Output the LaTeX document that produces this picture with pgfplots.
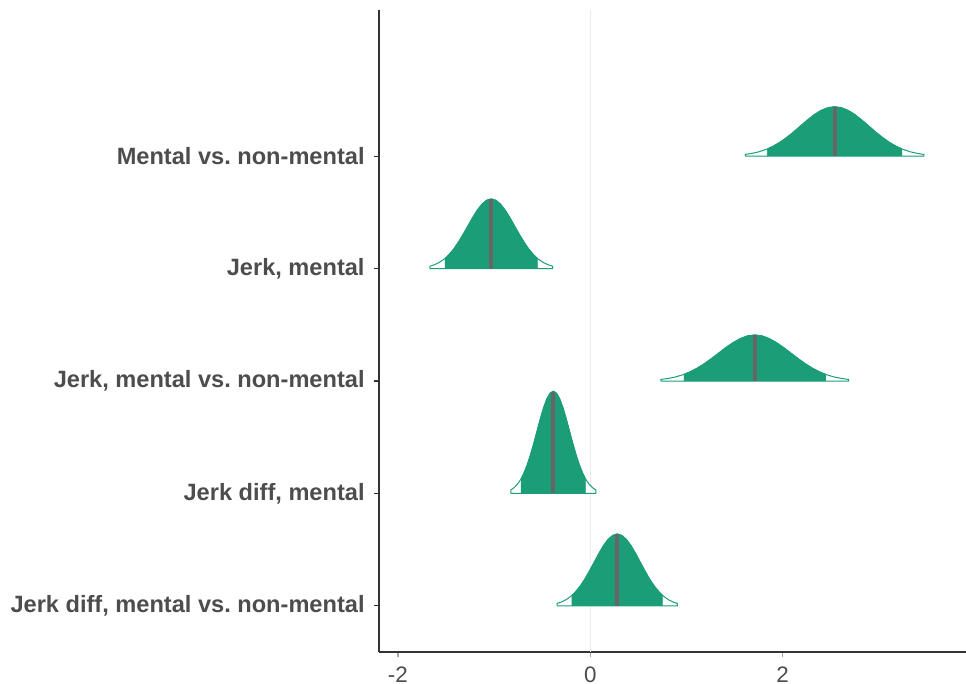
\documentclass[border=0pt]{standalone}
\usepackage{pgfplots}
\pgfplotsset{compat=1.18}
\usepackage{fontspec}
\setmainfont{Liberation Sans}
\frenchspacing
\definecolor{dgreen}{HTML}{1B9E77}
\definecolor{medgray}{HTML}{666666}
\definecolor{txtgray}{HTML}{4D4D4D}
\definecolor{axgray}{HTML}{333333}
\definecolor{gridgray}{HTML}{EBEBEB}
\begin{document}
\begin{tikzpicture}
\begin{axis}[
  scale only axis,
  width=293.5pt, height=321pt,
  xmin=-2.197, xmax=3.906,
  ymin=0.59, ymax=6.30,
  axis lines*=left,
  axis line style={axgray, line width=0.6pt},
  xtick={-2,0,2},
  ytick={1,2,3,4,5},
  yticklabels={Jerk diff{,} mental vs.\ non-mental, Jerk diff{,} mental, Jerk{,} mental vs.\ non-mental, Jerk{,} mental, Mental vs.\ non-mental},
  tick align=outside,
  major tick length=2.5pt,
  xtick style={color=gray!70, line width=0.6pt},
  ytick style={color=axgray, line width=0.6pt},
  /pgf/number format/assume math mode=true,
  xticklabel style={font=\fontsize{11.2}{13}\selectfont, text=txtgray, anchor=north, inner sep=0pt, yshift=-4.5pt},
  yticklabel style={font=\fontsize{11.8}{14}\selectfont\bfseries, text=txtgray, anchor=east, inner sep=0pt, xshift=-4.5pt},
  clip=false,
]
\addplot[gridgray, line width=0.6pt] coordinates {(0,0.59) (0,6.30)};

% Mental vs. non-mental (base 5)
\addplot[draw=dgreen, fill=white, line width=0.5pt] coordinates {
(1.612,5) (1.612,5.015) (1.683,5.025) (1.755,5.039) (1.826,5.060) (1.840,5.064) (1.897,5.087) (1.969,5.122) (2.040,5.165) (2.112,5.214) (2.183,5.267) (2.254,5.319) (2.326,5.368) (2.397,5.406) (2.469,5.431) (2.540,5.440) (2.611,5.431) (2.683,5.406) (2.754,5.368) (2.826,5.319) (2.897,5.267) (2.968,5.214) (3.040,5.165) (3.111,5.122) (3.183,5.087) (3.240,5.064) (3.254,5.060) (3.325,5.039) (3.397,5.025) (3.468,5.015) (3.468,5) (1.612,5)};
\addplot[draw=dgreen, fill=dgreen, line width=0.3pt] coordinates {
(1.840,5) (1.840,5.064) (1.897,5.087) (1.969,5.122) (2.040,5.165) (2.112,5.214) (2.183,5.267) (2.254,5.319) (2.326,5.368) (2.397,5.406) (2.469,5.431) (2.540,5.440) (2.611,5.431) (2.683,5.406) (2.754,5.368) (2.826,5.319) (2.897,5.267) (2.968,5.214) (3.040,5.165) (3.111,5.122) (3.183,5.087) (3.240,5.064) (3.240,5)};
\addplot[medgray, line width=1.9pt] coordinates {(2.540,5) (2.540,5.437)};

% Jerk, mental (base 4)
\addplot[draw=dgreen, fill=white, line width=0.5pt] coordinates {
(-1.667,4) (-1.667,4.021) (-1.618,4.035) (-1.569,4.055) (-1.520,4.084) (-1.510,4.091) (-1.471,4.123) (-1.422,4.172) (-1.373,4.233) (-1.324,4.302) (-1.275,4.376) (-1.226,4.450) (-1.177,4.518) (-1.128,4.572) (-1.079,4.608) (-1.030,4.620) (-0.981,4.608) (-0.932,4.572) (-0.883,4.518) (-0.834,4.450) (-0.785,4.376) (-0.736,4.302) (-0.687,4.233) (-0.638,4.172) (-0.589,4.123) (-0.550,4.091) (-0.540,4.084) (-0.491,4.055) (-0.442,4.035) (-0.393,4.021) (-0.393,4) (-1.667,4)};
\addplot[draw=dgreen, fill=dgreen, line width=0.3pt] coordinates {
(-1.510,4) (-1.510,4.091) (-1.471,4.123) (-1.422,4.172) (-1.373,4.233) (-1.324,4.302) (-1.275,4.376) (-1.226,4.450) (-1.177,4.518) (-1.128,4.572) (-1.079,4.608) (-1.030,4.620) (-0.981,4.608) (-0.932,4.572) (-0.883,4.518) (-0.834,4.450) (-0.785,4.376) (-0.736,4.302) (-0.687,4.233) (-0.638,4.172) (-0.589,4.123) (-0.550,4.091) (-0.550,4)};
\addplot[medgray, line width=1.9pt] coordinates {(-1.030,4) (-1.030,4.617)};

% Jerk, mental vs. non-mental (base 3)
\addplot[draw=dgreen, fill=white, line width=0.5pt] coordinates {
(0.735,3) (0.735,3.014) (0.810,3.023) (0.885,3.036) (0.960,3.055) (0.975,3.060) (1.035,3.081) (1.110,3.114) (1.185,3.154) (1.260,3.200) (1.335,3.249) (1.410,3.298) (1.485,3.342) (1.560,3.378) (1.635,3.402) (1.710,3.410) (1.785,3.402) (1.860,3.378) (1.935,3.342) (2.010,3.298) (2.085,3.249) (2.160,3.200) (2.235,3.154) (2.310,3.114) (2.385,3.081) (2.445,3.060) (2.460,3.055) (2.535,3.036) (2.610,3.023) (2.685,3.014) (2.685,3) (0.735,3)};
\addplot[draw=dgreen, fill=dgreen, line width=0.3pt] coordinates {
(0.975,3) (0.975,3.060) (1.035,3.081) (1.110,3.114) (1.185,3.154) (1.260,3.200) (1.335,3.249) (1.410,3.298) (1.485,3.342) (1.560,3.378) (1.635,3.402) (1.710,3.410) (1.785,3.402) (1.860,3.378) (1.935,3.342) (2.010,3.298) (2.085,3.249) (2.160,3.200) (2.235,3.154) (2.310,3.114) (2.385,3.081) (2.445,3.060) (2.445,3)};
\addplot[medgray, line width=1.9pt] coordinates {(1.710,3) (1.710,3.407)};

% Jerk diff, mental (base 2)
\addplot[draw=dgreen, fill=white, line width=0.5pt] coordinates {
(-0.827,2) (-0.827,2.031) (-0.793,2.051) (-0.759,2.081) (-0.725,2.123) (-0.718,2.133) (-0.691,2.180) (-0.657,2.253) (-0.623,2.342) (-0.589,2.443) (-0.555,2.552) (-0.521,2.661) (-0.487,2.760) (-0.453,2.840) (-0.419,2.892) (-0.385,2.910) (-0.351,2.892) (-0.317,2.840) (-0.283,2.760) (-0.249,2.661) (-0.215,2.552) (-0.181,2.443) (-0.147,2.342) (-0.113,2.253) (-0.079,2.180) (-0.052,2.133) (-0.045,2.123) (-0.011,2.081) (0.023,2.051) (0.057,2.031) (0.057,2) (-0.827,2)};
\addplot[draw=dgreen, fill=dgreen, line width=0.3pt] coordinates {
(-0.718,2) (-0.718,2.133) (-0.691,2.180) (-0.657,2.253) (-0.623,2.342) (-0.589,2.443) (-0.555,2.552) (-0.521,2.661) (-0.487,2.760) (-0.453,2.840) (-0.419,2.892) (-0.385,2.910) (-0.351,2.892) (-0.317,2.840) (-0.283,2.760) (-0.249,2.661) (-0.215,2.552) (-0.181,2.443) (-0.147,2.342) (-0.113,2.253) (-0.079,2.180) (-0.052,2.133) (-0.052,2)};
\addplot[medgray, line width=1.9pt] coordinates {(-0.385,2) (-0.385,2.905)};

% Jerk diff, mental vs. non-mental (base 1)
\addplot[draw=dgreen, fill=white, line width=0.5pt] coordinates {
(-0.344,1) (-0.344,1.022) (-0.296,1.036) (-0.248,1.057) (-0.200,1.087) (-0.190,1.094) (-0.152,1.127) (-0.104,1.178) (-0.056,1.240) (-0.008,1.312) (0.040,1.388) (0.088,1.465) (0.136,1.535) (0.184,1.591) (0.232,1.627) (0.280,1.640) (0.328,1.627) (0.376,1.591) (0.424,1.535) (0.472,1.465) (0.520,1.388) (0.568,1.312) (0.616,1.240) (0.664,1.178) (0.712,1.127) (0.750,1.094) (0.760,1.087) (0.808,1.057) (0.856,1.036) (0.904,1.022) (0.904,1) (-0.344,1)};
\addplot[draw=dgreen, fill=dgreen, line width=0.3pt] coordinates {
(-0.190,1) (-0.190,1.094) (-0.152,1.127) (-0.104,1.178) (-0.056,1.240) (-0.008,1.312) (0.040,1.388) (0.088,1.465) (0.136,1.535) (0.184,1.591) (0.232,1.627) (0.280,1.640) (0.328,1.627) (0.376,1.591) (0.424,1.535) (0.472,1.465) (0.520,1.388) (0.568,1.312) (0.616,1.240) (0.664,1.178) (0.712,1.127) (0.750,1.094) (0.750,1)};
\addplot[medgray, line width=1.9pt] coordinates {(0.280,1) (0.280,1.636)};
\end{axis}
\pgfresetboundingbox
\path[use as bounding box] (current axis.south west) ++(-189.5pt,-16pt) rectangle ++(483pt,342pt);
\end{tikzpicture}
\end{document}
